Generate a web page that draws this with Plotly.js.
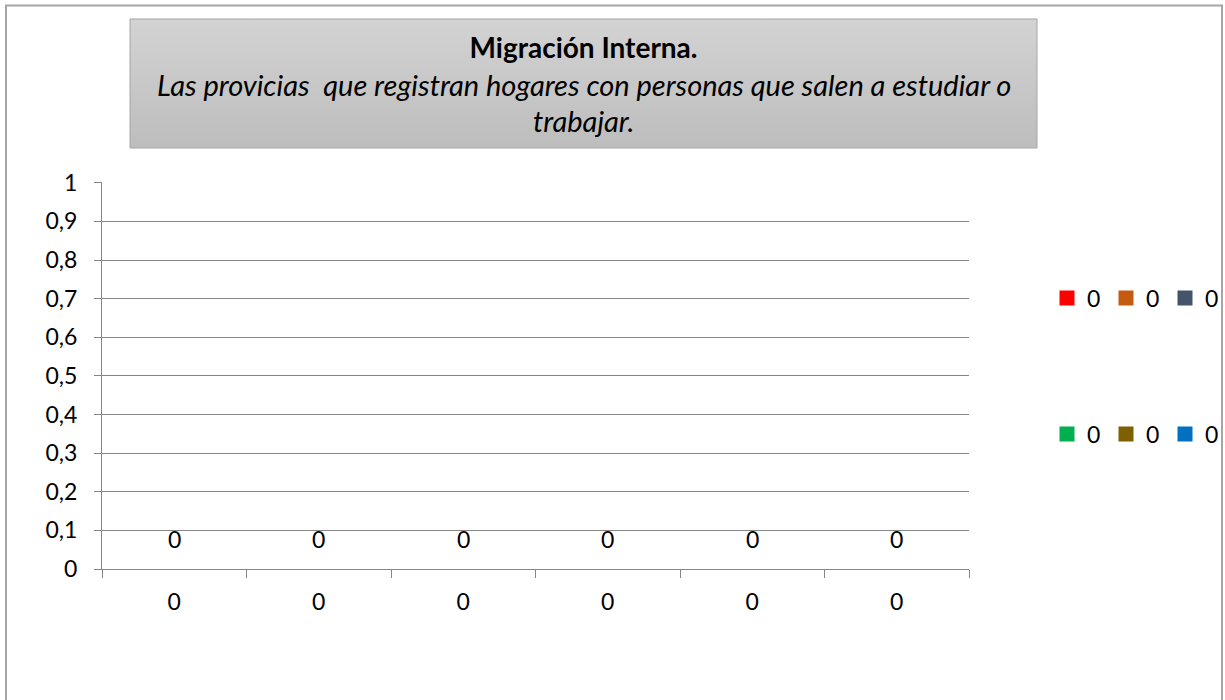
<!DOCTYPE html>
<html>
<head>
<meta charset="utf-8">
<script src="https://cdn.plot.ly/plotly-3.0.1.min.js"></script>
<style>
html,body{margin:0;padding:0;background:#fff;}
#chart{width:1225px;height:700px;}
</style>
</head>
<body>
<div id="chart"></div>
<script>
// ---- data ----
const categories = ["0", "0", "0", "0", "0", "0"];
const values = [0, 0, 0, 0, 0, 0];
const legendNames = ["0", "0", "0", "0", "0", "0"];
const pointColors = ["#FF0000", "#C55A11", "#44546A", "#00B050", "#7F6000", "#0070C0"];
const yTickVals = [0, 0.1, 0.2, 0.3, 0.4, 0.5, 0.6, 0.7, 0.8, 0.9, 1];
const titleMain = "Migración Interna.";
const subtitleLines = [
  "Las provicias&nbsp; que registran hogares con personas que salen a estudiar o",
  "trabajar."
];

const FONT = "Lato, 'Open Sans', sans-serif";
const FS = 23;
const idx = categories.map((c, i) => i);

// one bar trace per point (vary colours by point)
const barTraces = values.map((v, i) => ({
  type: "bar",
  x: [idx[i]],
  y: [v],
  name: legendNames[i],
  marker: { color: pointColors[i] },
  width: 0.6,
  showlegend: false,
  hoverinfo: "skip"
}));

// legend entries (square swatches) for each point colour
const legendTraces = values.map((v, i) => ({
  type: "scatter",
  mode: "markers",
  x: [null],
  y: [null],
  name: legendNames[i],
  marker: { color: pointColors[i], symbol: "square", size: 15 },
  legend: i < 3 ? "legend" : "legend2",
  showlegend: true,
  hoverinfo: "skip"
}));

// plot area geometry (pixels)
const L = 102, R = 1225 - 969, T = 182, B = 700 - 569;
const pw = 1225 - L - R, ph = 700 - T - B;
const px = x => (x - L) / pw;
const py = y => (700 - B - y) / ph;

const dataLabels = values.map((v, i) => ({
  x: idx[i], y: v, xref: "x", yref: "y",
  text: String(v).replace(".", ","),
  showarrow: false, yshift: 30,
  font: { family: FONT, size: FS, color: "#000" }
}));

const subtitleAnn = subtitleLines.map((t, i) => ({
  x: px(583.5), y: py(84 + 36 * i), xref: "paper", yref: "paper",
  xanchor: "center", yanchor: "middle",
  text: "<i>" + t + "</i>", showarrow: false,
  font: { family: FONT, size: 29, color: "#000" }
}));

const gradSvg = '<svg xmlns="http://www.w3.org/2000/svg" width="100" height="100" preserveAspectRatio="none">' +
  '<defs><linearGradient id="g" x1="0" y1="0" x2="0" y2="1">' +
  '<stop offset="0" stop-color="#d3d3d3"/><stop offset="1" stop-color="#bdbdbd"/>' +
  '</linearGradient></defs><rect width="100" height="100" fill="url(#g)"/></svg>';

const legendCommon = {
  orientation: "h", xanchor: "left", yanchor: "middle",
  entrywidth: 14, entrywidthmode: "pixels",
  itemsizing: "trace",
  font: { family: FONT, size: FS, color: "#000" },
  bgcolor: "rgba(0,0,0,0)", borderwidth: 0,
  itemclick: false, itemdoubleclick: false
};

const layout = {
  width: 1225, height: 700,
  margin: { l: L, r: R, t: T, b: B, pad: 0, autoexpand: false },
  paper_bgcolor: "#fff", plot_bgcolor: "#fff",
  separators: ",.",
  font: { family: FONT, size: FS, color: "#000" },
  title: {
    text: "<b>" + titleMain + "</b>",
    x: 583.5 / 1225, xanchor: "center",
    y: 1 - 48 / 700, yanchor: "middle",
    xref: "container", yref: "container",
    font: { family: FONT, size: 28, color: "#000" }
  },
  showlegend: true,
  bargap: 0.4,
  xaxis: {
    range: [-0.5, categories.length - 0.5],
    tickmode: "array", tickvals: idx, ticktext: categories,
    ticks: "", showgrid: false, zeroline: false,
    showline: true, linecolor: "#868686", linewidth: 1,
    ticklabelstandoff: 12,
    tickfont: { family: FONT, size: FS, color: "#000" },
    minor: {
      tickmode: "array",
      tickvals: idx.map(i => i - 0.5).concat([categories.length - 0.5]),
      ticks: "outside", ticklen: 8, tickcolor: "#868686", tickwidth: 1, showgrid: false
    },
    fixedrange: true
  },
  yaxis: {
    range: [0, 1.002],
    tickmode: "array", tickvals: yTickVals,
    ticktext: yTickVals.map(v => String(v).replace(".", ",")),
    ticks: "outside", ticklen: 7, tickcolor: "#868686",
    showgrid: true, gridcolor: "#868686", gridwidth: 1,
    zeroline: false,
    showline: true, linecolor: "#868686", linewidth: 1,
    ticklabelstandoff: 12,
    tickfont: { family: FONT, size: FS, color: "#000" },
    fixedrange: true
  },
  legend: Object.assign({}, legendCommon, { x: px(1047), y: py(298) }),
  legend2: Object.assign({}, legendCommon, { x: px(1047), y: py(434) }),
  images: [{
    source: "data:image/svg+xml;utf8," + encodeURIComponent(gradSvg),
    xref: "paper", yref: "paper",
    x: px(130), y: py(19), sizex: px(1037) - px(130), sizey: py(19) - py(148),
    xanchor: "left", yanchor: "top", sizing: "stretch", layer: "below"
  }],
  shapes: [
    { type: "rect", xref: "paper", yref: "paper",
      x0: px(130), x1: px(1037), y0: py(148), y1: py(19),
      line: { color: "#a6a6a6", width: 1 }, fillcolor: "rgba(0,0,0,0)", layer: "above" },
    { type: "path", xref: "paper", yref: "paper",
      path: "M " + px(6) + " " + py(720) + " L " + px(6) + " " + py(5.5) + " L " + px(1222) + " " + py(5.5) + " L " + px(1222) + " " + py(720),
      line: { color: "#a6a6a6", width: 2 }, layer: "above" }
  ],
  annotations: dataLabels.concat(subtitleAnn)
};

Plotly.newPlot("chart", barTraces.concat(legendTraces), layout, { displayModeBar: false, staticPlot: true });
</script>
</body>
</html>
